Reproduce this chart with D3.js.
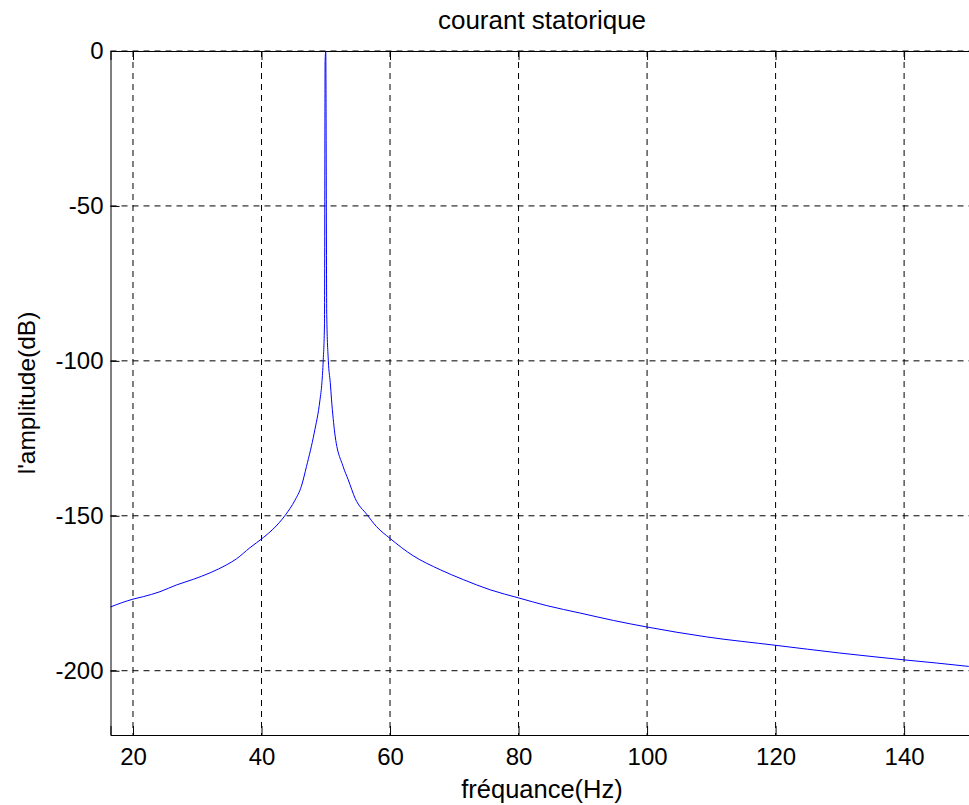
<!DOCTYPE html>
<html>
<head>
<meta charset="utf-8">
<script src="https://cdn.jsdelivr.net/npm/d3@7"></script>
<style>
  body { margin: 0; background: #fff; }
  text { font-family: "Liberation Sans", Arial, Helvetica, sans-serif; fill: #000; }
</style>
</head>
<body>
<div id="chart"></div>
<script>
// chart values
var freq = [16.4, 20, 21.6, 24.2, 26.8, 29.4, 32, 34.6, 36.1, 38.2, 40.3, 41.8, 43.7, 45.2,
  46.2, 47, 48.2, 49.1, 49.4, 49.6, 49.8, 49.9, 50, 50.15, 50.4, 50.7, 50.9, 51.4, 52.7,
  53.5, 54.6, 56.4, 57.9, 60, 63.6, 67.8, 71.4, 75.6, 80, 84.4, 89.6, 94.8, 100, 109.3,
  120, 130, 140, 150, 150.8];
var amplitude = [-179.5, -176.9, -176.1, -174.5, -172.3, -170.5, -168.4, -165.8, -163.9, -160.3, -157, -154.3, -149.8, -145,
  -140.5, -134.1, -123.3, -112.6, -107, -100, -88, -3, 0, -85, -100, -107, -112.6, -123.3, -134.1,
  -138.4, -144.5, -149.6, -153.5, -157.3, -162.9, -167.4, -170.6, -173.9, -176.5, -179, -181.4, -183.8, -185.9, -189.1,
  -191.8, -194.3, -196.5, -198.6, -198.8];
var xTicks = [20, 40, 60, 80, 100, 120, 140];
var yTicks = [0, -50, -100, -150, -200];

var svgWidth = 969;
var svgHeight = 805;
var margin = {top: 51, left: 110.5, right: -4.5, bottom: 70};
var width = svgWidth - margin.left - margin.right;
var height = svgHeight - margin.top - margin.bottom;

var svg = d3.select("#chart")
  .append("svg")
  .attr("width", svgWidth)
  .attr("height", svgHeight);

var chartGroup = svg.append("g")
  .attr("transform", `translate(${margin.left}, ${margin.top})`);

var xScale = d3.scaleLinear().domain([16.5, 150.8]).range([0, width]);
var yScale = d3.scaleLinear().domain([-220.75, 0]).range([height, 0]);

// dashed grid
chartGroup.selectAll(".vgrid")
  .data(xTicks)
  .enter()
  .append("line")
  .attr("x1", d => xScale(d)).attr("x2", d => xScale(d))
  .attr("y1", 0).attr("y2", height)
  .attr("stroke", "#000").attr("stroke-width", 1)
  .attr("stroke-dasharray", "6,5");
chartGroup.selectAll(".hgrid")
  .data(yTicks)
  .enter()
  .append("line")
  .attr("x1", 0).attr("x2", width)
  .attr("y1", d => yScale(d)).attr("y2", d => yScale(d))
  .attr("stroke", "#000").attr("stroke-width", 1)
  .attr("stroke-dasharray", "6,5");

// spectrum line
var clip = svg.append("defs").append("clipPath").attr("id", "plotclip");
clip.append("rect").attr("width", width).attr("height", height);

var line = d3.line()
  .x((d, i) => xScale(freq[i]))
  .y(d => yScale(d))
  .curve(d3.curveMonotoneX);

chartGroup.append("path")
  .datum(amplitude)
  .attr("clip-path", "url(#plotclip)")
  .attr("d", line)
  .attr("fill", "none")
  .attr("stroke", "#0000ff")
  .attr("stroke-width", 1);

// axes, ticks pointing inward; plain hyphen for negatives like the original
var bottomAxis = d3.axisBottom(xScale).tickValues(xTicks).tickSize(-9).tickPadding(13).tickFormat(d => String(d));
var topAxis = d3.axisTop(xScale).tickValues(xTicks).tickSize(-9).tickFormat("");
var leftAxis = d3.axisLeft(yScale).tickValues(yTicks).tickSize(-9).tickPadding(7).tickFormat(d => String(d));

chartGroup.append("g")
  .attr("transform", `translate(0, ${height})`)
  .call(bottomAxis);
chartGroup.append("g").call(topAxis);
chartGroup.append("g").call(leftAxis);

chartGroup.selectAll(".domain").attr("stroke", "#000").attr("stroke-width", 1);
chartGroup.selectAll(".tick line").attr("stroke", "#000");
chartGroup.selectAll(".tick text")
  .style("font-family", "'Liberation Sans', Arial, sans-serif")
  .style("font-size", "24px")
  .attr("fill", "#000");

// title and axis labels
svg.append("text")
  .attr("x", margin.left + width / 2)
  .attr("y", 29)
  .attr("text-anchor", "middle")
  .style("font-size", "26px")
  .text("courant statorique");

svg.append("text")
  .attr("x", margin.left + width / 2)
  .attr("y", 798)
  .attr("text-anchor", "middle")
  .style("font-size", "25.5px")
  .text("fréquance(Hz)");

svg.append("text")
  .attr("transform", `translate(35, ${margin.top + height / 2}) rotate(-90)`)
  .attr("text-anchor", "middle")
  .style("font-size", "24.5px")
  .text("l'amplitude(dB)");
</script>
</body>
</html>
